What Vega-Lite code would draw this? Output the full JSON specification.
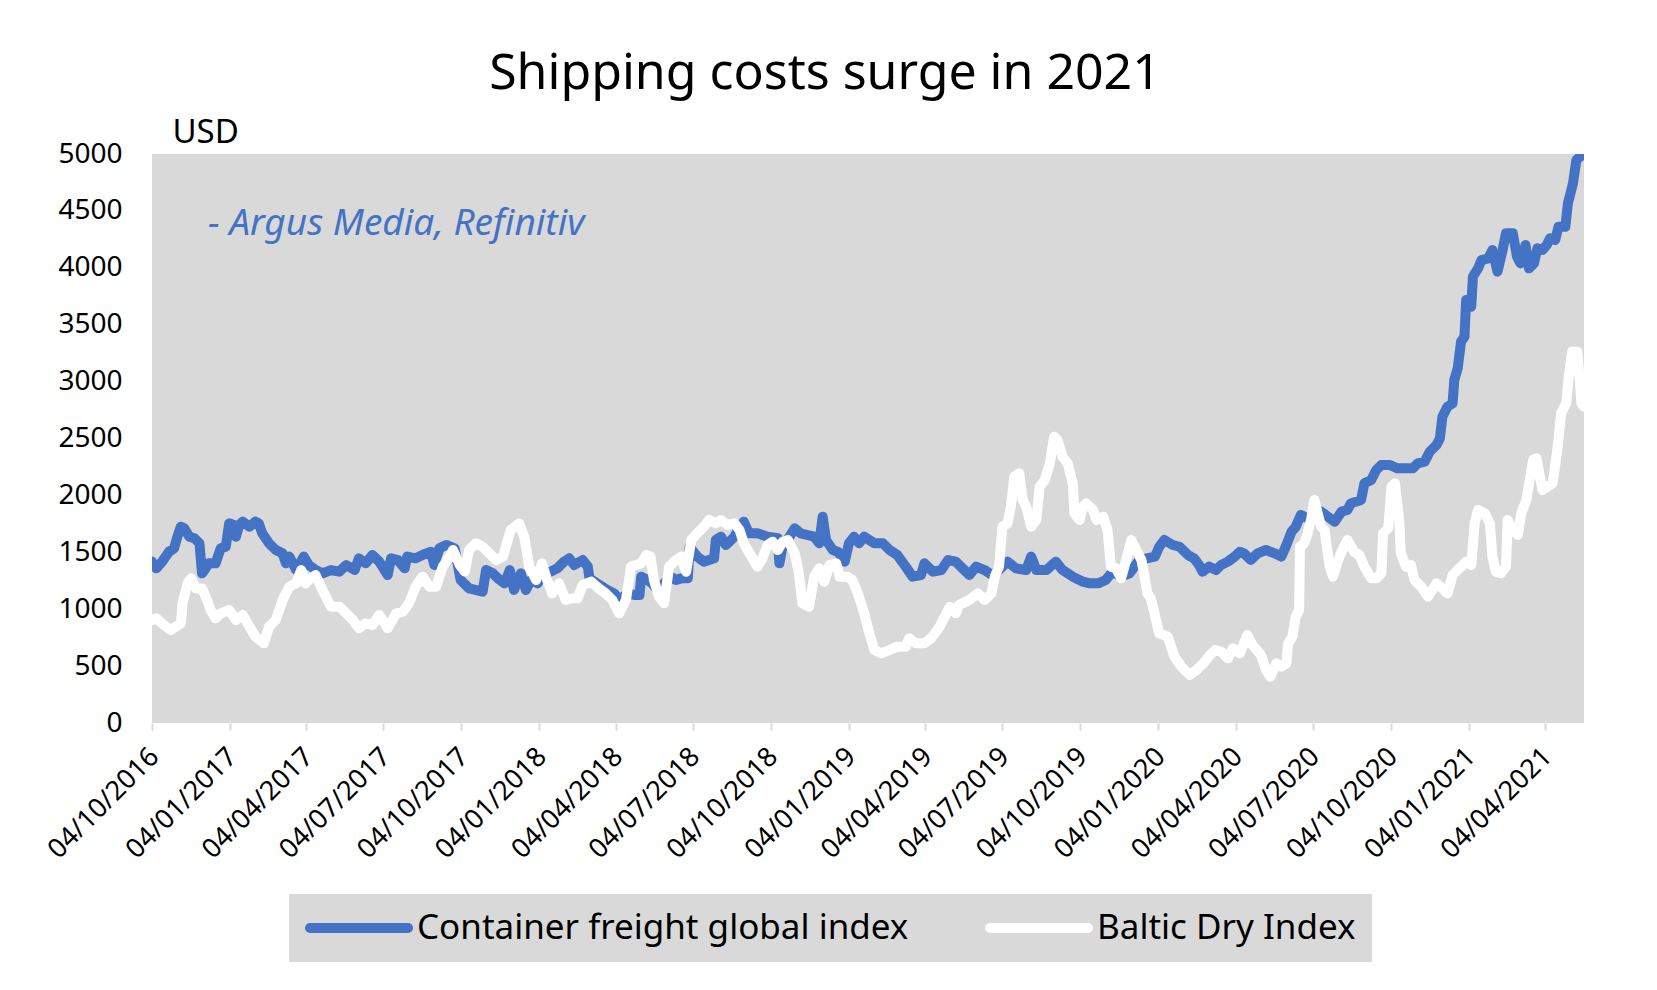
{
  "$schema": "https://vega.github.io/schema/vega-lite/v6.json",
  "width": 1432,
  "height": 569,
  "autosize": {"type": "none"},
  "padding": {"left": 152, "top": 154, "right": 73, "bottom": 267},
  "background": "white",
  "config": {
    "view": {"fill": "#d9d9d9", "stroke": null},
    "font": "Noto Sans",
    "axis": {"labelFont": "Noto Sans", "titleFont": "Noto Sans"}
  },
  "title": {
    "text": "Shipping costs surge in 2021",
    "font": "Noto Sans",
    "fontSize": 50,
    "fontWeight": "normal",
    "color": "black",
    "anchor": "middle",
    "baseline": "alphabetic",
    "dx": -43,
    "offset": -23
  },
  "datasets": {
    "container": [
      {"date": "2016-10-04", "value": 1418}, {"date": "2016-10-09", "value": 1359}, {"date": "2016-10-16", "value": 1418},
      {"date": "2016-10-24", "value": 1505}, {"date": "2016-10-30", "value": 1535}, {"date": "2016-11-03", "value": 1637},
      {"date": "2016-11-07", "value": 1725}, {"date": "2016-11-11", "value": 1711}, {"date": "2016-11-17", "value": 1637},
      {"date": "2016-11-23", "value": 1623}, {"date": "2016-11-29", "value": 1579}, {"date": "2016-12-02", "value": 1315},
      {"date": "2016-12-05", "value": 1344}, {"date": "2016-12-10", "value": 1403}, {"date": "2016-12-18", "value": 1403},
      {"date": "2016-12-24", "value": 1535}, {"date": "2016-12-30", "value": 1549}, {"date": "2017-01-03", "value": 1754},
      {"date": "2017-01-09", "value": 1740}, {"date": "2017-01-11", "value": 1637}, {"date": "2017-01-15", "value": 1740},
      {"date": "2017-01-19", "value": 1769}, {"date": "2017-01-27", "value": 1725}, {"date": "2017-02-03", "value": 1769},
      {"date": "2017-02-07", "value": 1754}, {"date": "2017-02-11", "value": 1667}, {"date": "2017-02-19", "value": 1579},
      {"date": "2017-02-27", "value": 1520}, {"date": "2017-03-07", "value": 1491}, {"date": "2017-03-11", "value": 1403},
      {"date": "2017-03-15", "value": 1462}, {"date": "2017-03-23", "value": 1344}, {"date": "2017-04-01", "value": 1462},
      {"date": "2017-04-07", "value": 1388}, {"date": "2017-04-15", "value": 1344}, {"date": "2017-04-23", "value": 1315},
      {"date": "2017-05-03", "value": 1344}, {"date": "2017-05-13", "value": 1330}, {"date": "2017-05-21", "value": 1388},
      {"date": "2017-05-31", "value": 1344}, {"date": "2017-06-05", "value": 1447}, {"date": "2017-06-13", "value": 1403},
      {"date": "2017-06-21", "value": 1476}, {"date": "2017-06-29", "value": 1418}, {"date": "2017-07-09", "value": 1300},
      {"date": "2017-07-13", "value": 1447}, {"date": "2017-07-21", "value": 1432}, {"date": "2017-07-29", "value": 1359},
      {"date": "2017-08-01", "value": 1462}, {"date": "2017-08-11", "value": 1447}, {"date": "2017-08-19", "value": 1476},
      {"date": "2017-08-29", "value": 1505}, {"date": "2017-09-02", "value": 1388}, {"date": "2017-09-08", "value": 1535},
      {"date": "2017-09-16", "value": 1564}, {"date": "2017-09-26", "value": 1535}, {"date": "2017-10-03", "value": 1257},
      {"date": "2017-10-13", "value": 1183}, {"date": "2017-10-29", "value": 1154}, {"date": "2017-11-02", "value": 1344},
      {"date": "2017-11-10", "value": 1315}, {"date": "2017-11-16", "value": 1271}, {"date": "2017-11-24", "value": 1227},
      {"date": "2017-11-30", "value": 1344}, {"date": "2017-12-05", "value": 1169}, {"date": "2017-12-13", "value": 1315},
      {"date": "2017-12-19", "value": 1169}, {"date": "2017-12-25", "value": 1257}, {"date": "2018-01-02", "value": 1227},
      {"date": "2018-01-06", "value": 1286}, {"date": "2018-01-17", "value": 1330}, {"date": "2018-01-25", "value": 1359},
      {"date": "2018-02-02", "value": 1418}, {"date": "2018-02-08", "value": 1447}, {"date": "2018-02-14", "value": 1388},
      {"date": "2018-02-24", "value": 1432}, {"date": "2018-03-02", "value": 1374}, {"date": "2018-03-04", "value": 1271},
      {"date": "2018-03-13", "value": 1227}, {"date": "2018-03-25", "value": 1169}, {"date": "2018-04-02", "value": 1139},
      {"date": "2018-04-08", "value": 1081}, {"date": "2018-04-18", "value": 1139}, {"date": "2018-04-26", "value": 1125},
      {"date": "2018-05-02", "value": 1125}, {"date": "2018-05-04", "value": 1286}, {"date": "2018-05-11", "value": 1257},
      {"date": "2018-05-17", "value": 1227}, {"date": "2018-05-23", "value": 1169}, {"date": "2018-05-31", "value": 1227},
      {"date": "2018-06-08", "value": 1286}, {"date": "2018-06-14", "value": 1257}, {"date": "2018-06-20", "value": 1271},
      {"date": "2018-06-28", "value": 1271}, {"date": "2018-06-30", "value": 1549}, {"date": "2018-07-09", "value": 1462},
      {"date": "2018-07-17", "value": 1418}, {"date": "2018-07-29", "value": 1447}, {"date": "2018-07-31", "value": 1608},
      {"date": "2018-08-06", "value": 1637}, {"date": "2018-08-12", "value": 1564}, {"date": "2018-08-22", "value": 1637},
      {"date": "2018-08-26", "value": 1696}, {"date": "2018-09-02", "value": 1769}, {"date": "2018-09-08", "value": 1667},
      {"date": "2018-09-18", "value": 1667}, {"date": "2018-09-30", "value": 1637}, {"date": "2018-10-12", "value": 1623},
      {"date": "2018-10-14", "value": 1403}, {"date": "2018-10-18", "value": 1564}, {"date": "2018-10-26", "value": 1637},
      {"date": "2018-11-01", "value": 1711}, {"date": "2018-11-08", "value": 1667}, {"date": "2018-11-16", "value": 1652},
      {"date": "2018-11-24", "value": 1637}, {"date": "2018-11-30", "value": 1579}, {"date": "2018-12-04", "value": 1813},
      {"date": "2018-12-08", "value": 1608}, {"date": "2018-12-16", "value": 1520}, {"date": "2018-12-22", "value": 1505},
      {"date": "2018-12-30", "value": 1418}, {"date": "2019-01-04", "value": 1579}, {"date": "2019-01-10", "value": 1637},
      {"date": "2019-01-16", "value": 1579}, {"date": "2019-01-22", "value": 1637}, {"date": "2019-02-03", "value": 1579},
      {"date": "2019-02-13", "value": 1579}, {"date": "2019-02-21", "value": 1520}, {"date": "2019-03-02", "value": 1476},
      {"date": "2019-03-12", "value": 1374}, {"date": "2019-03-20", "value": 1286}, {"date": "2019-03-30", "value": 1300},
      {"date": "2019-04-03", "value": 1403}, {"date": "2019-04-13", "value": 1330}, {"date": "2019-04-23", "value": 1344},
      {"date": "2019-05-01", "value": 1432}, {"date": "2019-05-10", "value": 1418}, {"date": "2019-05-18", "value": 1359},
      {"date": "2019-05-26", "value": 1300}, {"date": "2019-06-03", "value": 1374}, {"date": "2019-06-13", "value": 1344},
      {"date": "2019-06-22", "value": 1300}, {"date": "2019-06-30", "value": 1344}, {"date": "2019-07-10", "value": 1418},
      {"date": "2019-07-20", "value": 1359}, {"date": "2019-08-01", "value": 1344}, {"date": "2019-08-07", "value": 1462},
      {"date": "2019-08-13", "value": 1344}, {"date": "2019-08-25", "value": 1344}, {"date": "2019-09-05", "value": 1418},
      {"date": "2019-09-13", "value": 1344}, {"date": "2019-09-25", "value": 1286}, {"date": "2019-10-07", "value": 1242},
      {"date": "2019-10-15", "value": 1227}, {"date": "2019-10-25", "value": 1227}, {"date": "2019-11-03", "value": 1257},
      {"date": "2019-11-11", "value": 1330}, {"date": "2019-11-21", "value": 1286}, {"date": "2019-12-01", "value": 1315},
      {"date": "2019-12-11", "value": 1418}, {"date": "2019-12-21", "value": 1447}, {"date": "2019-12-31", "value": 1462},
      {"date": "2020-01-05", "value": 1549}, {"date": "2020-01-11", "value": 1608}, {"date": "2020-01-21", "value": 1564},
      {"date": "2020-01-29", "value": 1549}, {"date": "2020-02-08", "value": 1476}, {"date": "2020-02-15", "value": 1447},
      {"date": "2020-02-21", "value": 1388}, {"date": "2020-02-25", "value": 1330}, {"date": "2020-03-04", "value": 1374},
      {"date": "2020-03-12", "value": 1344}, {"date": "2020-03-18", "value": 1388}, {"date": "2020-03-26", "value": 1418},
      {"date": "2020-04-03", "value": 1462}, {"date": "2020-04-09", "value": 1505}, {"date": "2020-04-14", "value": 1491},
      {"date": "2020-04-22", "value": 1432}, {"date": "2020-04-30", "value": 1491}, {"date": "2020-05-10", "value": 1520},
      {"date": "2020-05-20", "value": 1491}, {"date": "2020-05-28", "value": 1462}, {"date": "2020-06-03", "value": 1564},
      {"date": "2020-06-09", "value": 1681}, {"date": "2020-06-14", "value": 1725}, {"date": "2020-06-20", "value": 1828},
      {"date": "2020-06-28", "value": 1798}, {"date": "2020-07-06", "value": 1828}, {"date": "2020-07-14", "value": 1857},
      {"date": "2020-07-22", "value": 1813}, {"date": "2020-07-30", "value": 1769}, {"date": "2020-08-07", "value": 1857},
      {"date": "2020-08-14", "value": 1872}, {"date": "2020-08-18", "value": 1930}, {"date": "2020-08-30", "value": 1960},
      {"date": "2020-09-03", "value": 2106}, {"date": "2020-09-11", "value": 2135}, {"date": "2020-09-17", "value": 2223},
      {"date": "2020-09-23", "value": 2267}, {"date": "2020-10-03", "value": 2267}, {"date": "2020-10-12", "value": 2238},
      {"date": "2020-10-22", "value": 2238}, {"date": "2020-10-30", "value": 2238}, {"date": "2020-11-05", "value": 2282},
      {"date": "2020-11-13", "value": 2296}, {"date": "2020-11-19", "value": 2384}, {"date": "2020-11-27", "value": 2443},
      {"date": "2020-12-01", "value": 2501}, {"date": "2020-12-04", "value": 2692}, {"date": "2020-12-10", "value": 2780},
      {"date": "2020-12-16", "value": 2809}, {"date": "2020-12-18", "value": 3014}, {"date": "2020-12-22", "value": 3116},
      {"date": "2020-12-26", "value": 3351}, {"date": "2020-12-30", "value": 3395}, {"date": "2021-01-01", "value": 3717},
      {"date": "2021-01-07", "value": 3658}, {"date": "2021-01-09", "value": 3922}, {"date": "2021-01-15", "value": 3995},
      {"date": "2021-01-19", "value": 4068}, {"date": "2021-01-27", "value": 4083}, {"date": "2021-02-01", "value": 4156},
      {"date": "2021-02-07", "value": 3966}, {"date": "2021-02-13", "value": 4156}, {"date": "2021-02-17", "value": 4303},
      {"date": "2021-02-25", "value": 4303}, {"date": "2021-03-02", "value": 4098}, {"date": "2021-03-06", "value": 4039},
      {"date": "2021-03-12", "value": 4200}, {"date": "2021-03-16", "value": 3995}, {"date": "2021-03-22", "value": 4039},
      {"date": "2021-03-26", "value": 4171}, {"date": "2021-04-01", "value": 4156}, {"date": "2021-04-06", "value": 4200},
      {"date": "2021-04-10", "value": 4259}, {"date": "2021-04-16", "value": 4244}, {"date": "2021-04-20", "value": 4361},
      {"date": "2021-04-28", "value": 4361}, {"date": "2021-05-01", "value": 4566}, {"date": "2021-05-07", "value": 4742},
      {"date": "2021-05-11", "value": 4947}, {"date": "2021-05-17", "value": 4985}, {"date": "2021-05-20", "value": 5000}
    ],
    "baltic": [
      {"date": "2016-10-04", "value": 905}, {"date": "2016-10-09", "value": 920}, {"date": "2016-10-18", "value": 861},
      {"date": "2016-10-26", "value": 817}, {"date": "2016-11-01", "value": 846}, {"date": "2016-11-07", "value": 876},
      {"date": "2016-11-09", "value": 1052}, {"date": "2016-11-15", "value": 1227}, {"date": "2016-11-19", "value": 1271},
      {"date": "2016-11-25", "value": 1183}, {"date": "2016-12-02", "value": 1183}, {"date": "2016-12-08", "value": 1081},
      {"date": "2016-12-12", "value": 993}, {"date": "2016-12-18", "value": 920}, {"date": "2016-12-24", "value": 964},
      {"date": "2017-01-03", "value": 993}, {"date": "2017-01-11", "value": 905}, {"date": "2017-01-19", "value": 949},
      {"date": "2017-01-27", "value": 846}, {"date": "2017-02-03", "value": 759}, {"date": "2017-02-13", "value": 700},
      {"date": "2017-02-19", "value": 846}, {"date": "2017-02-27", "value": 905}, {"date": "2017-03-07", "value": 1081},
      {"date": "2017-03-15", "value": 1198}, {"date": "2017-03-23", "value": 1227}, {"date": "2017-03-29", "value": 1344},
      {"date": "2017-04-03", "value": 1227}, {"date": "2017-04-07", "value": 1257}, {"date": "2017-04-15", "value": 1300},
      {"date": "2017-04-23", "value": 1169}, {"date": "2017-05-03", "value": 1022}, {"date": "2017-05-13", "value": 1022},
      {"date": "2017-05-21", "value": 964}, {"date": "2017-05-29", "value": 905}, {"date": "2017-06-05", "value": 832},
      {"date": "2017-06-13", "value": 876}, {"date": "2017-06-21", "value": 861}, {"date": "2017-06-29", "value": 949},
      {"date": "2017-07-09", "value": 832}, {"date": "2017-07-19", "value": 964}, {"date": "2017-07-27", "value": 978},
      {"date": "2017-08-03", "value": 1052}, {"date": "2017-08-11", "value": 1198}, {"date": "2017-08-19", "value": 1286},
      {"date": "2017-08-27", "value": 1198}, {"date": "2017-09-04", "value": 1198}, {"date": "2017-09-12", "value": 1374},
      {"date": "2017-09-20", "value": 1462}, {"date": "2017-09-24", "value": 1520}, {"date": "2017-10-02", "value": 1388},
      {"date": "2017-10-08", "value": 1330}, {"date": "2017-10-13", "value": 1520}, {"date": "2017-10-21", "value": 1579},
      {"date": "2017-10-29", "value": 1549}, {"date": "2017-11-06", "value": 1491}, {"date": "2017-11-14", "value": 1432},
      {"date": "2017-11-22", "value": 1462}, {"date": "2017-12-01", "value": 1696}, {"date": "2017-12-11", "value": 1754},
      {"date": "2017-12-17", "value": 1637}, {"date": "2017-12-23", "value": 1374}, {"date": "2017-12-31", "value": 1257},
      {"date": "2018-01-07", "value": 1403}, {"date": "2018-01-13", "value": 1257}, {"date": "2018-01-19", "value": 1139},
      {"date": "2018-01-27", "value": 1227}, {"date": "2018-02-04", "value": 1081}, {"date": "2018-02-12", "value": 1096},
      {"date": "2018-02-18", "value": 1096}, {"date": "2018-02-24", "value": 1213}, {"date": "2018-03-06", "value": 1242},
      {"date": "2018-03-15", "value": 1183}, {"date": "2018-03-23", "value": 1139}, {"date": "2018-03-31", "value": 1081},
      {"date": "2018-04-08", "value": 964}, {"date": "2018-04-16", "value": 1081}, {"date": "2018-04-22", "value": 1374},
      {"date": "2018-04-28", "value": 1388}, {"date": "2018-05-04", "value": 1403}, {"date": "2018-05-10", "value": 1476},
      {"date": "2018-05-15", "value": 1462}, {"date": "2018-05-19", "value": 1257}, {"date": "2018-05-25", "value": 1110},
      {"date": "2018-05-31", "value": 1052}, {"date": "2018-06-06", "value": 1374}, {"date": "2018-06-14", "value": 1432},
      {"date": "2018-06-20", "value": 1462}, {"date": "2018-06-26", "value": 1330}, {"date": "2018-07-02", "value": 1608},
      {"date": "2018-07-09", "value": 1667}, {"date": "2018-07-17", "value": 1725}, {"date": "2018-07-23", "value": 1784},
      {"date": "2018-07-31", "value": 1754}, {"date": "2018-08-06", "value": 1784}, {"date": "2018-08-14", "value": 1740},
      {"date": "2018-08-22", "value": 1754}, {"date": "2018-08-28", "value": 1696}, {"date": "2018-09-02", "value": 1579},
      {"date": "2018-09-10", "value": 1476}, {"date": "2018-09-18", "value": 1374}, {"date": "2018-09-24", "value": 1447},
      {"date": "2018-09-30", "value": 1564}, {"date": "2018-10-06", "value": 1593}, {"date": "2018-10-12", "value": 1520},
      {"date": "2018-10-18", "value": 1593}, {"date": "2018-10-24", "value": 1608}, {"date": "2018-11-01", "value": 1491},
      {"date": "2018-11-06", "value": 1315}, {"date": "2018-11-10", "value": 1052}, {"date": "2018-11-18", "value": 1022},
      {"date": "2018-11-24", "value": 1286}, {"date": "2018-11-30", "value": 1359}, {"date": "2018-12-06", "value": 1242},
      {"date": "2018-12-12", "value": 1388}, {"date": "2018-12-20", "value": 1403}, {"date": "2018-12-24", "value": 1286},
      {"date": "2019-01-02", "value": 1286}, {"date": "2019-01-08", "value": 1257}, {"date": "2019-01-14", "value": 1150},
      {"date": "2019-01-22", "value": 964}, {"date": "2019-01-28", "value": 788}, {"date": "2019-02-03", "value": 641},
      {"date": "2019-02-11", "value": 612}, {"date": "2019-02-21", "value": 641}, {"date": "2019-03-02", "value": 671},
      {"date": "2019-03-12", "value": 671}, {"date": "2019-03-16", "value": 744}, {"date": "2019-03-24", "value": 700},
      {"date": "2019-04-03", "value": 700}, {"date": "2019-04-11", "value": 744}, {"date": "2019-04-21", "value": 846},
      {"date": "2019-04-29", "value": 964}, {"date": "2019-05-03", "value": 1022}, {"date": "2019-05-10", "value": 964},
      {"date": "2019-05-14", "value": 1037}, {"date": "2019-05-26", "value": 1081}, {"date": "2019-06-05", "value": 1139},
      {"date": "2019-06-13", "value": 1081}, {"date": "2019-06-21", "value": 1139}, {"date": "2019-06-25", "value": 1286},
      {"date": "2019-06-30", "value": 1374}, {"date": "2019-07-04", "value": 1725}, {"date": "2019-07-10", "value": 1754},
      {"date": "2019-07-14", "value": 1901}, {"date": "2019-07-18", "value": 2164}, {"date": "2019-07-24", "value": 2194},
      {"date": "2019-07-28", "value": 1960}, {"date": "2019-08-01", "value": 1901}, {"date": "2019-08-07", "value": 1725},
      {"date": "2019-08-13", "value": 1784}, {"date": "2019-08-17", "value": 2077}, {"date": "2019-08-23", "value": 2135},
      {"date": "2019-08-29", "value": 2282}, {"date": "2019-09-03", "value": 2516}, {"date": "2019-09-07", "value": 2487},
      {"date": "2019-09-13", "value": 2340}, {"date": "2019-09-19", "value": 2282}, {"date": "2019-09-25", "value": 2106},
      {"date": "2019-09-27", "value": 1842}, {"date": "2019-10-03", "value": 1784}, {"date": "2019-10-07", "value": 1901},
      {"date": "2019-10-11", "value": 1930}, {"date": "2019-10-19", "value": 1872}, {"date": "2019-10-23", "value": 1784},
      {"date": "2019-10-31", "value": 1813}, {"date": "2019-11-05", "value": 1696}, {"date": "2019-11-09", "value": 1374},
      {"date": "2019-11-15", "value": 1359}, {"date": "2019-11-21", "value": 1271}, {"date": "2019-11-27", "value": 1432},
      {"date": "2019-12-03", "value": 1608}, {"date": "2019-12-09", "value": 1520}, {"date": "2019-12-15", "value": 1432},
      {"date": "2019-12-18", "value": 1315}, {"date": "2019-12-22", "value": 1139}, {"date": "2019-12-26", "value": 1096},
      {"date": "2020-01-05", "value": 788}, {"date": "2020-01-15", "value": 759}, {"date": "2020-01-23", "value": 583},
      {"date": "2020-01-31", "value": 495}, {"date": "2020-02-10", "value": 422}, {"date": "2020-02-18", "value": 466},
      {"date": "2020-02-26", "value": 524}, {"date": "2020-03-05", "value": 598}, {"date": "2020-03-11", "value": 641},
      {"date": "2020-03-18", "value": 627}, {"date": "2020-03-26", "value": 568}, {"date": "2020-04-01", "value": 656},
      {"date": "2020-04-09", "value": 612}, {"date": "2020-04-18", "value": 773}, {"date": "2020-04-24", "value": 685},
      {"date": "2020-05-04", "value": 598}, {"date": "2020-05-10", "value": 466}, {"date": "2020-05-15", "value": 407},
      {"date": "2020-05-22", "value": 524}, {"date": "2020-05-28", "value": 495}, {"date": "2020-06-03", "value": 524},
      {"date": "2020-06-05", "value": 700}, {"date": "2020-06-10", "value": 759}, {"date": "2020-06-14", "value": 934},
      {"date": "2020-06-18", "value": 993}, {"date": "2020-06-19", "value": 1549}, {"date": "2020-06-24", "value": 1579},
      {"date": "2020-06-28", "value": 1667}, {"date": "2020-07-02", "value": 1784}, {"date": "2020-07-06", "value": 1960},
      {"date": "2020-07-10", "value": 1842}, {"date": "2020-07-14", "value": 1725}, {"date": "2020-07-18", "value": 1696},
      {"date": "2020-07-24", "value": 1374}, {"date": "2020-07-28", "value": 1286}, {"date": "2020-08-03", "value": 1432},
      {"date": "2020-08-08", "value": 1520}, {"date": "2020-08-14", "value": 1608}, {"date": "2020-08-22", "value": 1505},
      {"date": "2020-08-28", "value": 1476}, {"date": "2020-09-03", "value": 1374}, {"date": "2020-09-11", "value": 1271},
      {"date": "2020-09-17", "value": 1271}, {"date": "2020-09-23", "value": 1315}, {"date": "2020-09-25", "value": 1667},
      {"date": "2020-10-01", "value": 1711}, {"date": "2020-10-05", "value": 2077}, {"date": "2020-10-09", "value": 2106},
      {"date": "2020-10-14", "value": 1784}, {"date": "2020-10-16", "value": 1491}, {"date": "2020-10-22", "value": 1374},
      {"date": "2020-10-28", "value": 1388}, {"date": "2020-11-01", "value": 1257}, {"date": "2020-11-09", "value": 1198},
      {"date": "2020-11-17", "value": 1110}, {"date": "2020-11-27", "value": 1227}, {"date": "2020-12-04", "value": 1183},
      {"date": "2020-12-10", "value": 1139}, {"date": "2020-12-16", "value": 1300}, {"date": "2020-12-24", "value": 1359},
      {"date": "2021-01-01", "value": 1418}, {"date": "2021-01-07", "value": 1388}, {"date": "2021-01-11", "value": 1754},
      {"date": "2021-01-15", "value": 1872}, {"date": "2021-01-23", "value": 1842}, {"date": "2021-01-29", "value": 1754},
      {"date": "2021-02-01", "value": 1462}, {"date": "2021-02-05", "value": 1330}, {"date": "2021-02-11", "value": 1315},
      {"date": "2021-02-17", "value": 1374}, {"date": "2021-02-19", "value": 1784}, {"date": "2021-02-25", "value": 1696},
      {"date": "2021-03-03", "value": 1652}, {"date": "2021-03-07", "value": 1842}, {"date": "2021-03-13", "value": 1960},
      {"date": "2021-03-21", "value": 2311}, {"date": "2021-03-25", "value": 2326}, {"date": "2021-03-29", "value": 2165},
      {"date": "2021-04-01", "value": 2047}, {"date": "2021-04-07", "value": 2077}, {"date": "2021-04-13", "value": 2106},
      {"date": "2021-04-19", "value": 2428}, {"date": "2021-04-23", "value": 2721}, {"date": "2021-04-29", "value": 2809},
      {"date": "2021-05-02", "value": 3043}, {"date": "2021-05-06", "value": 3263}, {"date": "2021-05-12", "value": 3263},
      {"date": "2021-05-15", "value": 3014}, {"date": "2021-05-17", "value": 2809}, {"date": "2021-05-20", "value": 2780}
    ],
    "note": [
      {"date": "2016-12-09", "value": 4290, "text": "- Argus Media, Refinitiv"}
    ]
  },
  "encoding": {
    "x": {
      "field": "date",
      "type": "temporal",
      "scale": {
        "type": "utc",
        "domain": [
          {"year": 2016, "month": 10, "date": 4, "utc": true},
          {"year": 2021, "month": 5, "date": 20, "utc": true}
        ],
        "nice": false
      },
      "axis": {
        "title": null,
        "format": "%d/%m/%Y",
        "values": [
          {"year": 2016, "month": 10, "date": 4, "utc": true},
          {"year": 2017, "month": 1, "date": 4, "utc": true},
          {"year": 2017, "month": 4, "date": 4, "utc": true},
          {"year": 2017, "month": 7, "date": 4, "utc": true},
          {"year": 2017, "month": 10, "date": 4, "utc": true},
          {"year": 2018, "month": 1, "date": 4, "utc": true},
          {"year": 2018, "month": 4, "date": 4, "utc": true},
          {"year": 2018, "month": 7, "date": 4, "utc": true},
          {"year": 2018, "month": 10, "date": 4, "utc": true},
          {"year": 2019, "month": 1, "date": 4, "utc": true},
          {"year": 2019, "month": 4, "date": 4, "utc": true},
          {"year": 2019, "month": 7, "date": 4, "utc": true},
          {"year": 2019, "month": 10, "date": 4, "utc": true},
          {"year": 2020, "month": 1, "date": 4, "utc": true},
          {"year": 2020, "month": 4, "date": 4, "utc": true},
          {"year": 2020, "month": 7, "date": 4, "utc": true},
          {"year": 2020, "month": 10, "date": 4, "utc": true},
          {"year": 2021, "month": 1, "date": 4, "utc": true},
          {"year": 2021, "month": 4, "date": 4, "utc": true}
        ],
        "labelAngle": -45,
        "labelAlign": "right",
        "labelBaseline": "top",
        "labelPadding": 13,
        "labelOffset": -7,
        "labelFontSize": 27,
        "labelColor": "black",
        "labelOverlap": false,
        "labelFlush": false,
        "domain": false,
        "grid": false,
        "ticks": true,
        "tickColor": "#d9d9d9",
        "tickSize": 7,
        "tickWidth": 2
      }
    },
    "y": {
      "field": "value",
      "type": "quantitative",
      "scale": {"domain": [0, 5000], "nice": false, "zero": true},
      "axis": {
        "title": "USD",
        "titleAngle": 0,
        "titleX": 20,
        "titleY": -12,
        "titleAlign": "left",
        "titleBaseline": "alphabetic",
        "titleFontSize": 33,
        "titleFontWeight": "normal",
        "titleColor": "black",
        "values": [0, 500, 1000, 1500, 2000, 2500, 3000, 3500, 4000, 4500, 5000],
        "format": "d",
        "labelFontSize": 28,
        "labelColor": "black",
        "labelPadding": 30,
        "labelOverlap": false,
        "labelFlush": false,
        "domain": false,
        "ticks": false,
        "grid": false
      }
    }
  },
  "layer": [
    {
      "data": {"name": "container"},
      "mark": {"type": "line", "strokeWidth": 10, "strokeCap": "round", "strokeJoin": "round", "clip": true},
      "encoding": {
        "color": {
          "datum": "Container freight global index",
          "type": "nominal",
          "scale": {
            "domain": ["Container freight global index", "Baltic Dry Index"],
            "range": ["#4472c4", "#ffffff"]
          },
          "legend": {
            "orient": "none",
            "legendX": 137,
            "legendY": 740,
            "direction": "horizontal",
            "title": null,
            "fillColor": "#d9d9d9",
            "padding": 16,
            "symbolType": "stroke",
            "symbolStrokeWidth": 10,
            "symbolSize": 9604,
            "clipHeight": 36,
            "labelFont": "Noto Sans",
            "labelFontSize": 35,
            "labelColor": "black",
            "labelLimit": 1000,
            "labelOffset": 4,
            "columnPadding": 76,
            "encode": {"symbols": {"update": {"strokeCap": {"value": "round"}}}}
          }
        }
      }
    },
    {
      "data": {"name": "baltic"},
      "mark": {"type": "line", "strokeWidth": 10, "strokeCap": "round", "strokeJoin": "round", "clip": true},
      "encoding": {
        "color": {"datum": "Baltic Dry Index", "type": "nominal"}
      }
    },
    {
      "data": {"name": "note"},
      "mark": {
        "type": "text",
        "font": "Noto Sans",
        "fontSize": 37,
        "fontStyle": "italic",
        "color": "#4472c4",
        "align": "left",
        "baseline": "alphabetic"
      },
      "encoding": {
        "text": {"field": "text", "type": "nominal"}
      }
    }
  ]
}
